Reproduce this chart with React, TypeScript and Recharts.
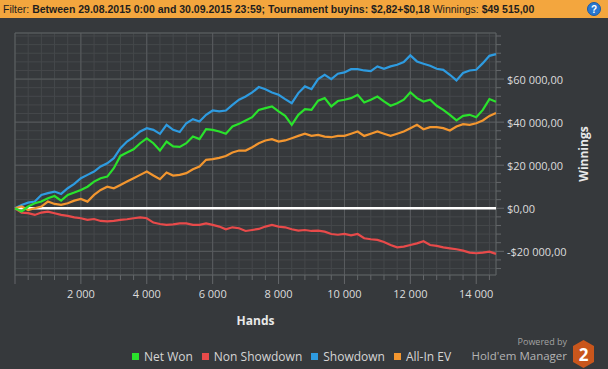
import React from 'react';
import { LineChart, Line, XAxis, YAxis, CartesianGrid, ReferenceLine } from 'recharts';

const HANDS = [
  0, 200, 400, 600, 800, 1000, 1200, 1400, 1600, 1800, 2000, 2200, 2400, 2600, 2800, 3000,
  3200, 3400, 3600, 3800, 4000, 4200, 4400, 4600, 4800, 5000, 5200, 5400, 5600, 5800, 6000,
  6200, 6400, 6600, 6800, 7000, 7200, 7400, 7600, 7800, 8000, 8200, 8400, 8600, 8800, 9000,
  9200, 9400, 9600, 9800, 10000, 10200, 10400, 10600, 10800, 11000, 11200, 11400, 11600,
  11800, 12000, 12200, 12400, 12600, 12800, 13000, 13200, 13400, 13600, 13800, 14000, 14200,
  14400, 14600,
];

const NET_WON = [
  0, -1500, 800, 2300, 3100, 4650, 5700, 3550, 6200, 7300, 8500, 10000, 12400, 13950, 14700, 18600,
  24300, 25900, 27400, 30200, 32500, 30200, 26800, 31000, 28700, 28500, 30200, 33300, 32100, 36700, 36400,
  35650, 34600, 38000, 39200, 40800, 42300, 45700, 46500, 47300, 45000, 42900, 38750, 43400, 46000, 45700,
  50000, 51150, 47300, 49800, 50400, 51150, 52700, 49100, 50400, 51900, 49600, 47600, 48800,
  50400, 53900, 51150, 49600, 50400, 47600, 45700, 43400, 40800, 42900, 43400, 42300, 45700,
  50700, 49500,
];

const NON_SHOWDOWN = [
  0, -2000, -2300, -3100, -2000, -1550, -2300, -3100, -3550, -4200, -4650, -5400, -5000, -5900, -6050, -5900,
  -5400, -5100, -4650, -4200, -4650, -6650, -7300, -7750, -7450, -7000, -7000, -7750, -7750, -7000, -7750,
  -8500, -9750, -8850, -9300, -10550, -10100, -9600, -8500, -7750, -8500, -8850, -9750, -10400, -10100, -10550,
  -10400, -10850, -11950, -12300, -11950, -12550, -11950, -13950, -14400, -14700, -15650, -17050, -18150,
  -17800, -17050, -16300, -15300, -17050, -17500, -18150, -18600, -19050, -19700, -20600, -20900, -20600,
  -20150, -21200,
];

const SHOWDOWN = [
  0, 1550, 2600, 3100, 6200, 7000, 7750, 6650, 9300, 11300, 13950, 15500, 17050, 19400, 20900, 23250,
  27900, 31000, 33000, 35650, 37200, 36400, 34550, 38750, 36400, 35400, 39500, 41400, 40300, 43400, 45400,
  45000, 45400, 48000, 50400, 51900, 53800, 56300, 55300, 53800, 52700, 50700, 48800, 53500, 56600, 55300,
  60000, 62000, 60000, 62500, 63100, 64600, 64600, 64000, 63700, 65900, 64800, 65900, 66650,
  67900, 71000, 68200, 67100, 66200, 64800, 64300, 62000, 59400, 62800, 64000, 64300, 67400,
  70800, 71600,
];

const ALL_IN_EV = [
  0, 800, -800, 0, 800, 3100, 2000, 1550, 2300, 3550, 4350, 3100, 6200, 8500, 10000, 9300,
  10850, 12400, 13950, 15500, 17050, 15200, 13500, 16600, 15200, 15500, 16300, 18100, 19400, 22500, 22800,
  23400, 24300, 25900, 26800, 26800, 28350, 30200, 31500, 32100, 31000, 31500, 32550, 33600, 34600, 33600,
  34100, 33300, 33000, 33600, 33600, 34600, 35650, 33600, 34600, 35650, 34600, 33600, 34600,
  35650, 37200, 38750, 36700, 37650, 37650, 37200, 36100, 38000, 39050, 38750, 39500, 40800,
  42900, 44200,
];

const X_TICKS = [
  0, 400, 800, 1200, 1600, 2000, 2400, 2800, 3200, 3600, 4000, 4400, 4800, 5200, 5600, 6000,
  6400, 6800, 7200, 7600, 8000, 8400, 8800, 9200, 9600, 10000, 10400, 10800, 11200, 11600,
  12000, 12400, 12800, 13200, 13600, 14000, 14400,
];
const X_MAJOR = [2000, 4000, 6000, 8000, 10000, 12000, 14000];

const Y_TICKS = [
  -28000, -24000, -20000, -16000, -12000, -8000, -4000, 0, 4000, 8000, 12000, 16000, 20000,
  24000, 28000, 32000, 36000, 40000, 44000, 48000, 52000, 56000, 60000, 64000, 68000, 72000,
  76000, 80000,
];
const Y_MAJOR = [-20000, 20000, 40000, 60000];
const Y_LABELS = [-20000, 0, 20000, 40000, 60000];

const X_DOMAIN = [0, 14600];
const Y_DOMAIN = [-31000, 81400];

const SERIES = [
  { key: 'showdown', name: 'Showdown', color: '#2e9be0' },
  { key: 'allInEv', name: 'All-In EV', color: '#f3962f' },
  { key: 'nonShowdown', name: 'Non Showdown', color: '#e84a4a' },
  { key: 'netWon', name: 'Net Won', color: '#2ae22c' },
];
const LEGEND_ORDER = ['netWon', 'nonShowdown', 'showdown', 'allInEv'];

const data = HANDS.map((h, i) => ({
  hands: h,
  netWon: NET_WON[i],
  nonShowdown: NON_SHOWDOWN[i],
  showdown: SHOWDOWN[i],
  allInEv: ALL_IN_EV[i],
}));

const BG = '#36393c';
const TEXT = '#dcdcdc';
const FONT = '"Open Sans", "Noto Sans", sans-serif';

const group = (n: number) => Math.abs(n).toString().replace(/\B(?=(\d{3})+(?!\d))/g, ' ');
const fmtMoney = (v: number) => (v < 0 ? '-' : '') + '$' + group(v) + ',00';

const XTick = (props: any) => {
  const { x, y, payload } = props;
  const major = payload.value % 2000 === 0;
  return (
    <g>
      <line x1={x} x2={x} y1={y} y2={y + (major ? 9 : 5)} stroke="#64676a" />
      {major && payload.value > 0 && (
        <text x={x} y={y + 18} textAnchor="middle" dominantBaseline="central" fill={TEXT} fontSize={11} fontFamily={FONT}>
          {group(payload.value)}
        </text>
      )}
    </g>
  );
};

const YTick = (props: any) => {
  const { x, y, payload } = props;
  const major = Y_LABELS.includes(payload.value);
  return (
    <g>
      <line x1={x} x2={x + (major ? 8 : 5)} y1={y} y2={y} stroke="#64676a" />
      {major && (
        <text x={x + 11} y={y} textAnchor="start" dominantBaseline="central" fill={TEXT} fontSize={11} fontFamily={FONT}>
          {fmtMoney(payload.value)}
        </text>
      )}
    </g>
  );
};

const App: React.FC = () => {
  return (
    <div style={{ position: 'absolute', left: 0, top: 0, width: 608, height: 369, background: BG, overflow: 'hidden', fontFamily: FONT }}>
      <LineChart
        width={608}
        height={369}
        data={data}
        margin={{ top: 33, right: 0, left: 15, bottom: 0 }}
        style={{ position: 'absolute', left: 0, top: 0 }}
      >
        <CartesianGrid stroke="#45484b" strokeWidth={1} />
        <XAxis
          dataKey="hands"
          type="number"
          domain={X_DOMAIN}
          ticks={X_TICKS}
          height={94}
          axisLine={false}
          tickLine={false}
          tickSize={0}
          tickMargin={0}
          tick={<XTick />}
          interval={0}
          label={{
            content: (p: any) => (
              <text
                x={p.viewBox.x + p.viewBox.width / 2}
                y={p.viewBox.y + 45}
                textAnchor="middle"
                dominantBaseline="central"
                fill="#e8e8e8"
                fontSize={12}
                fontWeight="bold"
                fontFamily={FONT}
              >
                Hands
              </text>
            ),
          }}
        />
        <YAxis
          orientation="right"
          type="number"
          domain={Y_DOMAIN}
          ticks={Y_TICKS}
          width={112}
          axisLine={false}
          tickLine={false}
          tickSize={0}
          tickMargin={0}
          tick={<YTick />}
          interval={0}
          allowDataOverflow
          label={{
            content: (p: any) => {
              const cx = p.viewBox.x + 87;
              const cy = p.viewBox.y + p.viewBox.height / 2;
              return (
                <text
                  x={cx}
                  y={cy}
                  transform={`rotate(-90, ${cx}, ${cy})`}
                  textAnchor="middle"
                  dominantBaseline="central"
                  fill="#e8e8e8"
                  fontSize={12}
                  fontWeight="bold"
                  fontFamily={FONT}
                >
                  Winnings
                </text>
              );
            },
          }}
        />
        {X_MAJOR.map((v) => (
          <ReferenceLine key={'x' + v} x={v} stroke="#595c5f" strokeWidth={1} />
        ))}
        {Y_MAJOR.map((v) => (
          <ReferenceLine key={'y' + v} y={v} stroke="#595c5f" strokeWidth={1} />
        ))}
        <ReferenceLine x={X_DOMAIN[0]} stroke="#5f6265" />
        <ReferenceLine x={X_DOMAIN[1]} stroke="#5f6265" />
        <ReferenceLine y={Y_DOMAIN[0]} stroke="#5f6265" />
        <ReferenceLine y={Y_DOMAIN[1]} stroke="#5f6265" />
        <ReferenceLine y={0} stroke="#ffffff" strokeWidth={2.5} />
        {SERIES.map((s) => (
          <Line
            key={s.key}
            type="linear"
            dataKey={s.key}
            name={s.name}
            stroke={s.color}
            strokeWidth={2.2}
            dot={false}
            isAnimationActive={false}
          />
        ))}
      </LineChart>

      <div
        style={{
          position: 'absolute',
          left: 0,
          top: 0,
          width: 608,
          height: 18,
          background: '#f3a63e',
          fontFamily: '"Liberation Sans", Arial, sans-serif',
          fontSize: 10.5,
          color: '#1e1e1e',
          lineHeight: '18px',
          whiteSpace: 'nowrap',
        }}
      >
        <span style={{ marginLeft: 3 }}>Filter: </span>
        <b>Between 29.08.2015 0:00 and 30.09.2015 23:59; Tournament buyins: $2,82+$0,18</b>
        <span> Winnings: </span>
        <b>$49 515,00</b>
        <svg width={14} height={14} style={{ position: 'absolute', left: 587, top: 2 }}>
          <circle cx={7} cy={7} r={6.5} fill="#2a78d0" stroke="#1b5aa5" />
          <text x={7} y={7.5} textAnchor="middle" dominantBaseline="central" fill="#fff" fontSize={10} fontWeight="bold" fontFamily="Arial">
            ?
          </text>
        </svg>
      </div>

      <div
        style={{
          position: 'absolute',
          left: 132,
          top: 348,
          height: 16,
          display: 'flex',
          alignItems: 'center',
          fontSize: 12,
          color: '#d5d5d5',
          whiteSpace: 'nowrap',
        }}
      >
        {LEGEND_ORDER.map((k) => {
          const s = SERIES.find((x) => x.key === k)!;
          return (
            <div key={k} style={{ display: 'flex', alignItems: 'center', marginRight: 9 }}>
              <div style={{ width: 7, height: 7, background: s.color, marginRight: 5 }} />
              <span>{s.name}</span>
            </div>
          );
        })}
      </div>

      <div style={{ position: 'absolute', right: 41, top: 336, textAlign: 'right', whiteSpace: 'nowrap' }}>
        <div style={{ fontSize: 9, color: '#a2a2a2', lineHeight: '12px' }}>Powered by</div>
        <div style={{ fontSize: 11.5, color: '#b4b4b4', lineHeight: '16px' }}>Hold'em Manager</div>
      </div>
      <svg width={24} height={30} style={{ position: 'absolute', left: 572, top: 340 }}>
        <polygon points="11.5,0 22,6 22,22 11.5,28 1,22 1,6" fill="#c9561c" />
        <text x={11.5} y={14.5} textAnchor="middle" dominantBaseline="central" fill="#ffffff" fontSize={17} fontWeight="bold" fontFamily={FONT}>
          2
        </text>
      </svg>
    </div>
  );
};

export default App;
